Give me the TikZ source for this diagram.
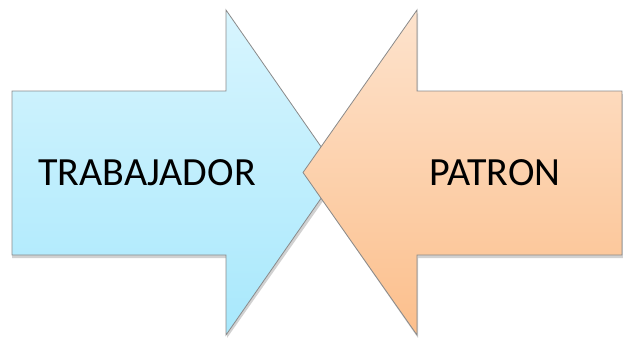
\documentclass[tikz,border=0pt]{standalone}
\usepackage{fontspec}
\setmainfont{Carlito}
\definecolor{bluetop}{HTML}{D8F5FE}
\definecolor{bluebot}{HTML}{A8E8FC}
\definecolor{orgtop}{HTML}{FDE3CD}
\definecolor{orgbot}{HTML}{FCBF8C}
\definecolor{edgegray}{HTML}{8A8A8A}
\tikzset{
  x=1pt,y=-1pt,
  arrowshape/.style={draw=edgegray,line width=0.8pt,line join=miter},
  shadowshape/.style={fill=black,opacity=0.18,draw=none},
  lbl/.style={font=\fontsize{40}{44}\selectfont,text=black,inner sep=0pt}
}
\begin{document}
\begin{tikzpicture}
\useasboundingbox (0,0) rectangle (623,337);
% left arrow
\fill[shadowshape] (12,94) -- (227,94) -- (227,13) -- (341,175.5) -- (227,338) -- (227,258) -- (12,258) -- cycle;
\path[arrowshape,top color=bluetop,bottom color=bluebot] (12,91) -- (226,91) -- (226,10) -- (339,172.5) -- (226,335) -- (226,255) -- (12,255) -- cycle;
% right arrow
\fill[shadowshape] (624,94) -- (418,94) -- (418,13) -- (305,175.5) -- (418,338) -- (418,258) -- (624,258) -- cycle;
\path[arrowshape,top color=orgtop,bottom color=orgbot] (622,91) -- (417,91) -- (417,10) -- (303,172.5) -- (417,335) -- (417,255) -- (622,255) -- cycle;
\node[lbl] (trab) at (147,173) {TRABAJADOR};
\node[lbl] (patron) at (495,173) {PATRON};
\end{tikzpicture}
\end{document}
